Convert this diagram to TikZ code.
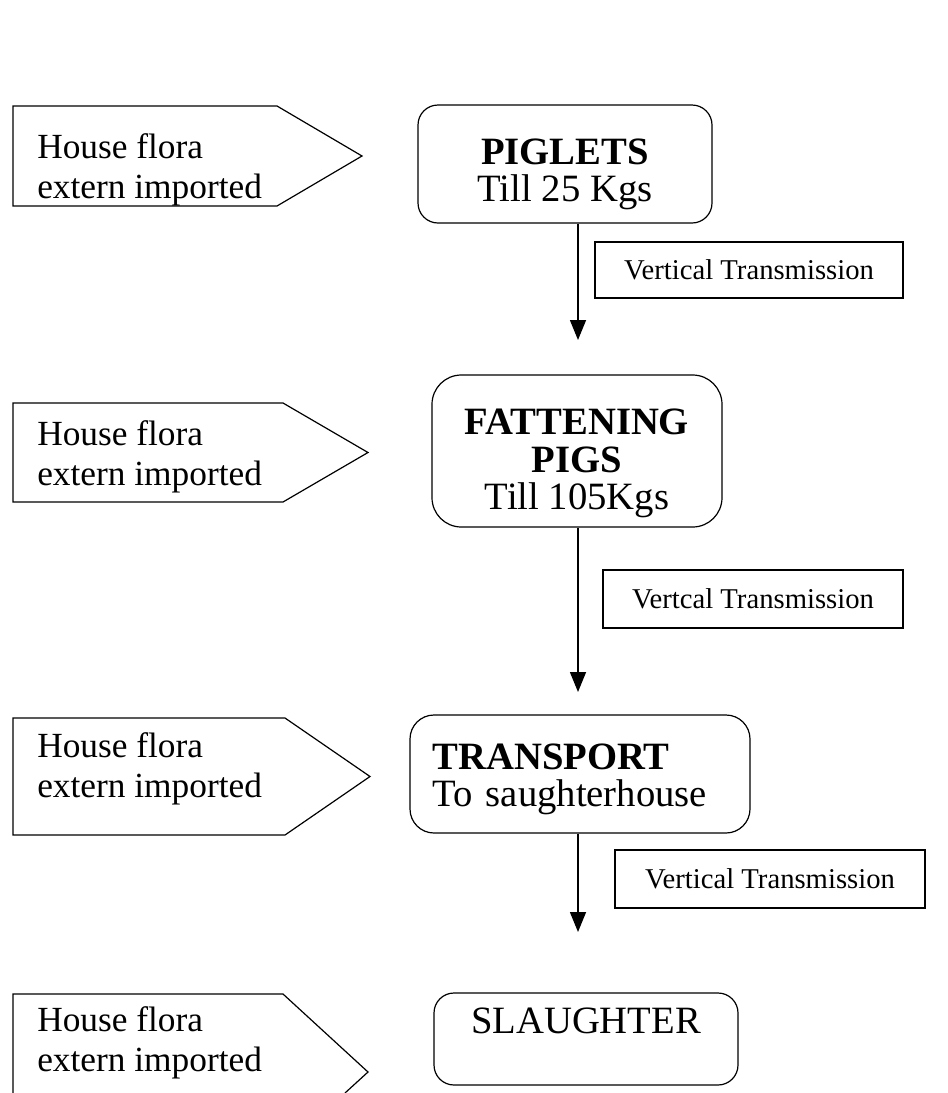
\documentclass[tikz,border=0pt]{standalone}
\usepackage{fontspec}
\setmainfont{Liberation Serif}
\usetikzlibrary{arrows.meta}

\tikzset{
  stage/.style={draw, line width=0.9pt, inner sep=0pt, align=center, font=\fontsize{29}{28}\selectfont},
  flora/.style={anchor=base west, align=left, inner sep=0pt, font=\fontsize{26.5}{30}\selectfont},
  vtbox/.style={draw, line width=0.9pt, inner sep=0pt, font=\fontsize{21.5}{25}\selectfont},
  flow/.style={line width=1.1pt, -{Triangle[length=15pt,width=12pt]}}
}

\begin{document}
\begin{tikzpicture}[x=0.75pt, y=-0.75pt]
		\useasboundingbox (0,0) rectangle (948,1093);
		\foreach \i/\ya/\yb/\sh/\tp/\bl in {1/106/206/277/362/198, 2/403/502/283/368/485, 3/718/835/285/370/797} {
			\draw [line width=0.9pt] (13,\ya) -- (\sh,\ya) -- (\tp,{(\ya+\yb)/2}) -- (\sh,\yb) -- (13,\yb) -- cycle;
			\node [flora] (flora\i) at (37,\bl) {House flora\\extern imported};
		}
		\draw [line width=0.9pt] (13,1093) -- (13,994) -- (283,994) -- (368,1072) -- (345,1093);
		\node [flora] (flora4) at (37,1071) {House flora\\extern imported};

		\node [stage, rounded corners=15pt, minimum width=220.5pt, minimum height=88.5pt] (piglets) at (565,164) {\rule{0pt}{35pt}\textbf{PIGLETS}\\Till 25 Kgs};
		\node [stage, rounded corners=22pt, minimum width=217.5pt, minimum height=114pt] (fatten) at (577,451) {\rule{0pt}{38pt}\textbf{FATTENING}\\\textbf{PIGS}\\Till 105Kgs};
		\node [stage, rounded corners=18pt, minimum width=255pt, minimum height=88.5pt, text width=221pt, align=left] (transport) at (580,774) {\rule{0pt}{27pt}\textbf{TRANSPORT}\\To saughterhouse};
		\node [stage, rounded corners=15pt, minimum width=228pt, minimum height=69pt] (slaughter) at (586,1039) {SLAUGHTER\\\mbox{}};

		\node [vtbox, minimum width=231pt, minimum height=42pt] (vt1) at (749,270) {Vertical Transmission};
		\node [vtbox, minimum width=225pt, minimum height=43.5pt] (vt2) at (753,599) {Vertcal Transmission};
		\node [vtbox, minimum width=232.5pt, minimum height=43.5pt] (vt3) at (770,879) {Vertical Transmission};

		\coordinate (tip1) at (578,340);
		\coordinate (tip2) at (578,692);
		\coordinate (tip3) at (578,932);
		\draw [flow] (piglets.south -| tip1) -- (tip1);
		\draw [flow] (fatten.south -| tip2) -- (tip2);
		\draw [flow] (transport.south -| tip3) -- (tip3);
\end{tikzpicture}
\end{document}
